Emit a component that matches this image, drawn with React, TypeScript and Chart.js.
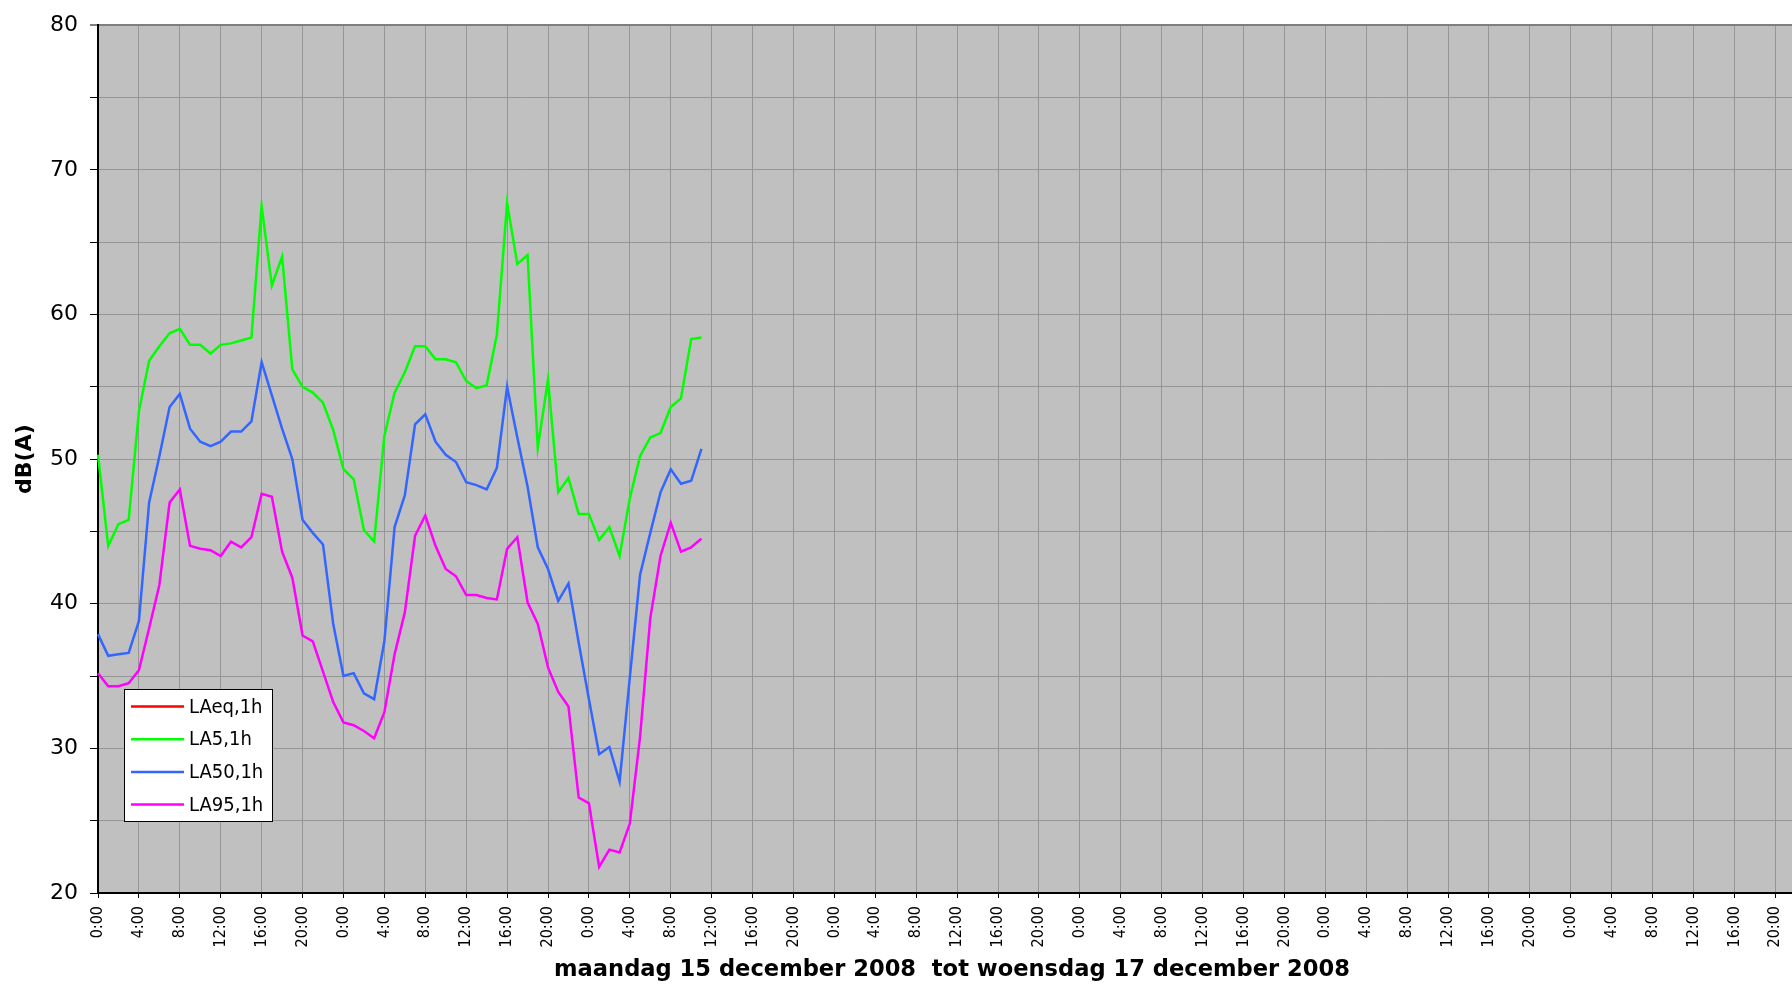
import React, { useEffect, useRef } from 'react';
import { Chart, registerables } from 'chart.js';

Chart.register(...registerables);

// ---- data ----
const HOUR_LABELS = [
  '0:00', '1:00', '2:00', '3:00', '4:00', '5:00', '6:00', '7:00', '8:00', '9:00', '10:00', '11:00',
  '12:00', '13:00', '14:00', '15:00', '16:00', '17:00', '18:00', '19:00', '20:00', '21:00', '22:00', '23:00',
];
const DAY_COUNT = 7;
const CATEGORIES: string[] = Array.from({ length: DAY_COUNT }).flatMap(() => HOUR_LABELS);

const SERIES_NAMES = ['LAeq,1h', 'LA5,1h', 'LA50,1h', 'LA95,1h'];

const LAEQ: (number | null)[] = [];

const LA5 = [
  50.3, 44.0, 45.5, 45.8, 53.3, 56.8, 57.8, 58.7, 59.0, 57.9, 57.9, 57.3,
  57.9, 58.0, 58.2, 58.4, 67.5, 62.0, 64.0, 56.2, 55.0, 54.6, 53.9, 52.0,
  49.3, 48.6, 45.1, 44.3, 51.6, 54.6, 56.0, 57.8, 57.8, 56.9, 56.9, 56.7,
  55.4, 54.9, 55.1, 58.6, 67.7, 63.5, 64.1, 50.8, 55.5, 47.7, 48.7, 46.2,
  46.2, 44.4, 45.3, 43.3, 47.3, 50.2, 51.5, 51.8, 53.6, 54.2, 58.3, 58.4,
];

const LA50 = [
  37.9, 36.4, 36.5, 36.6, 38.8, 47.0, 50.2, 53.6, 54.5, 52.1, 51.2, 50.9,
  51.2, 51.9, 51.9, 52.6, 56.7, 54.4, 52.1, 50.0, 45.8, 44.9, 44.1, 38.6,
  35.0, 35.2, 33.8, 33.4, 37.4, 45.3, 47.5, 52.4, 53.1, 51.2, 50.3, 49.8,
  48.4, 48.2, 47.9, 49.4, 55.0, 51.5, 48.1, 43.9, 42.4, 40.2, 41.4, 37.3,
  33.4, 29.6, 30.1, 27.7, 34.9, 42.0, 44.9, 47.7, 49.3, 48.3, 48.5, 50.7,
];

const LA95 = [
  35.2, 34.3, 34.3, 34.5, 35.4, 38.3, 41.3, 47.0, 47.9, 44.0, 43.8, 43.7,
  43.3, 44.3, 43.9, 44.6, 47.6, 47.4, 43.6, 41.8, 37.8, 37.4, 35.3, 33.2,
  31.8, 31.6, 31.2, 30.7, 32.5, 36.5, 39.4, 44.7, 46.1, 44.0, 42.4, 41.9,
  40.6, 40.6, 40.4, 40.3, 43.8, 44.6, 40.1, 38.6, 35.6, 33.9, 32.9, 26.6,
  26.2, 21.8, 23.0, 22.8, 24.8, 30.8, 39.0, 43.3, 45.6, 43.6, 43.9, 44.5,
];

const COLORS = ['#ff0000', '#00ff00', '#3366ff', '#ff00ff'];

const Y_MIN = 20;
const Y_MAX = 80;
const Y_STEP = 5;
const Y_TITLE = 'dB(A)';
const X_TITLE = 'maandag 15 december 2008  tot woensdag 17 december 2008';

const FONT = "'DejaVu Sans Condensed', 'DejaVu Sans', sans-serif";
const FONT_B = "'DejaVu Sans', sans-serif";

const plotBg = {
  id: 'plotBg',
  beforeDraw(chart: any) {
    const { ctx, chartArea } = chart;
    ctx.save();
    ctx.fillStyle = '#c0c0c0';
    ctx.fillRect(chartArea.left, chartArea.top, chartArea.right - chartArea.left, chartArea.bottom - chartArea.top);
    ctx.restore();
  },
};

const boxLegend = {
  id: 'boxLegend',
  afterDraw(chart: any) {
    const { ctx } = chart;
    const x = 124.5, y = 689.5, w = 148, h = 132;
    ctx.save();
    ctx.fillStyle = '#ffffff';
    ctx.fillRect(x, y, w, h);
    ctx.strokeStyle = '#000000';
    ctx.lineWidth = 1;
    ctx.strokeRect(x, y, w, h);
    ctx.font = `20px ${FONT}`;
    ctx.textBaseline = 'middle';
    ctx.textAlign = 'left';
    chart.data.datasets.forEach((ds: any, i: number) => {
      const ry = 706.5 + i * 32.7;
      ctx.strokeStyle = ds.borderColor;
      ctx.lineWidth = 2.5;
      ctx.beginPath();
      ctx.moveTo(131, ry);
      ctx.lineTo(184, ry);
      ctx.stroke();
      ctx.fillStyle = '#000000';
      ctx.fillText(ds.label, 189, ry + 1);
    });
    ctx.restore();
  },
};

export default function App() {
  const ref = useRef<HTMLCanvasElement | null>(null);

  useEffect(() => {
    if (!ref.current) return;
    const series = [LAEQ, LA5, LA50, LA95];
    const chart = new Chart(ref.current, {
      type: 'line',
      data: {
        labels: CATEGORIES,
        datasets: series.map((d, i) => ({
          label: SERIES_NAMES[i],
          data: d,
          borderColor: COLORS[i],
          backgroundColor: COLORS[i],
          borderWidth: 2.5,
          pointRadius: 0,
          tension: 0,
          fill: false,
        })),
      },
      options: {
        responsive: false,
        animation: false,
        devicePixelRatio: 1,
        layout: { padding: { left: 0, top: 21, right: 10, bottom: 0 } },
        plugins: {
          legend: { display: false },
          tooltip: { enabled: false },
        },
        scales: {
          x: {
            type: 'category',
            offset: false,
            afterFit(scale: any) {
              scale.height = 92;
            },
            grid: {
              color: '#969696',
              lineWidth: 1,
              drawTicks: true,
              tickLength: 5,
              tickColor: '#000000',
              tickWidth: 1,
            },
            border: { color: '#000000', width: 2 },
            ticks: {
              autoSkip: false,
              maxRotation: 90,
              minRotation: 90,
              padding: 8,
              color: '#000000',
              font: { family: FONT, size: 16 },
              callback: (_v: any, index: number) => (index % 4 === 0 ? CATEGORIES[index] : null),
            },
            title: {
              display: true,
              text: X_TITLE,
              color: '#000000',
              font: { family: FONT_B, size: 22.6, weight: 'bold' },
              padding: { top: 0, bottom: 1 },
            },
          },
          y: {
            min: Y_MIN,
            max: Y_MAX,
            afterFit(scale: any) {
              scale.width = 98;
            },
            grid: {
              color: (c: any) => (c.tick && c.tick.value === Y_MAX ? '#7f7f7f' : '#969696'),
              lineWidth: (c: any) => (c.tick && c.tick.value === Y_MAX ? 2 : 1),
              drawTicks: true,
              tickLength: 8,
              tickColor: '#000000',
              tickWidth: 1,
            },
            border: { color: '#000000', width: 2 },
            ticks: {
              stepSize: Y_STEP,
              padding: 12,
              color: '#000000',
              font: { family: FONT_B, size: 22 },
              callback: (v: any) => (Number(v) % 10 === 0 ? String(v) : ''),
            },
            title: {
              display: true,
              text: Y_TITLE,
              color: '#000000',
              font: { family: FONT_B, size: 22, weight: 'bold' },
              padding: { top: 12, bottom: 0 },
            },
          },
        },
      },
      plugins: [plotBg, boxLegend],
    });
    return () => chart.destroy();
  }, []);

  return (
    <div
      style={{
        position: 'fixed',
        left: 0,
        top: 0,
        width: 1792,
        height: 985,
        overflow: 'hidden',
        background: '#ffffff',
      }}
    >
      <canvas ref={ref} width={1816} height={985} style={{ display: 'block', width: 1816, height: 985 }} />
    </div>
  );
}
